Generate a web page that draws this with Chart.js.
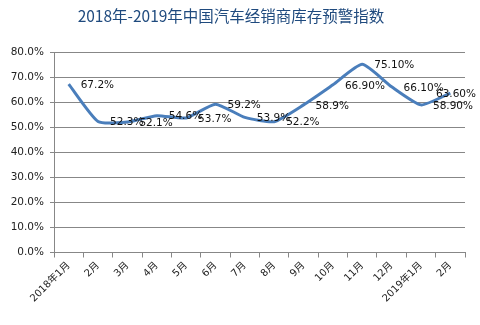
<!DOCTYPE html>
<html>
<head>
<meta charset="utf-8">
<script src="https://cdn.jsdelivr.net/npm/chart.js@4"></script>
<style>
  html,body{margin:0;padding:0;background:#fff;}
  #wrap{width:480px;height:325px;position:relative;}
</style>
</head>
<body>
<div id="wrap"><canvas id="c" width="480" height="325"></canvas></div>
<script>
const title = '2018年-2019年中国汽车经销商库存预警指数';
const months = ['2018年1月','2月','3月','4月','5月','6月','7月','8月','9月','10月','11月','12月','2019年1月','2月'];
const index = [67.2, 52.3, 52.1, 54.6, 53.7, 59.2, 53.9, 52.2, 58.9, 66.9, 75.1, 66.1, 58.9, 63.6];
const pointLabels = ['67.2%','52.3%','52.1%','54.6%','53.7%','59.2%','53.9%','52.2%','58.9%','66.90%','75.10%','66.10%','58.90%','63.60%'];
const yMax = 80, yStep = 10;

const FONT = '"DejaVu Sans", "Noto Sans CJK SC", sans-serif';
const grey = '#878787';

const titlePlugin = {
  id: 'titleText',
  afterDraw(chart){
    const ctx = chart.ctx;
    ctx.save();
    ctx.font = '15.5px "Noto Sans CJK SC", sans-serif';
    ctx.fillStyle = '#1f4a7e';
    ctx.textAlign = 'center';
    ctx.textBaseline = 'middle';
    ctx.fillText(title, 231, 16);
    ctx.restore();
  }
};

const labelPlugin = {
  id: 'pointText',
  afterDatasetsDraw(chart){
    const ctx = chart.ctx;
    const pts = chart.getDatasetMeta(0).data;
    ctx.save();
    ctx.font = '10.5px ' + FONT;
    ctx.fillStyle = '#111';
    ctx.textBaseline = 'middle';
    pts.forEach((p,i) => {
      const t = pointLabels[i];
      const w = ctx.measureText(t).width;
      let x = p.x + 12;
      if (x + w > 476) x = 476 - w;
      ctx.fillText(t, x, p.y + 1);
    });
    ctx.restore();
  }
};

new Chart(document.getElementById('c'), {
  type: 'line',
  data: {
    labels: months,
    datasets: [{
      data: index,
      borderColor: '#4a7ebb',
      borderWidth: 3,
      pointRadius: 0,
      tension: 0.18,
      fill: false
    }]
  },
  options: {
    responsive: false,
    animation: false,
    layout: {padding: {top: 52, right: 15, left: 0, bottom: 0}},
    plugins: {legend: {display: false}, tooltip: {enabled: false}, title: {display: false}},
    scales: {
      y: {
        min: 0, max: yMax,
        ticks: {stepSize: yStep, callback: v => v.toFixed(1) + '%', color: '#222', font: {family: FONT, size: 10.5}, padding: 6},
        grid: {color: grey, tickLength: 4},
        border: {color: grey},
        afterFit: s => { s.width = 54; }
      },
      x: {
        offset: true,
        ticks: {maxRotation: 45, minRotation: 45, autoSkip: false, color: '#222', font: {family: FONT, size: 10}, padding: 2},
        grid: {drawOnChartArea: false, color: grey, tickLength: 5, offset: true},
        border: {color: grey},
        afterFit: s => { s.height = 72.5; }
      }
    }
  },
  plugins: [titlePlugin, labelPlugin]
});
</script>
</body>
</html>
